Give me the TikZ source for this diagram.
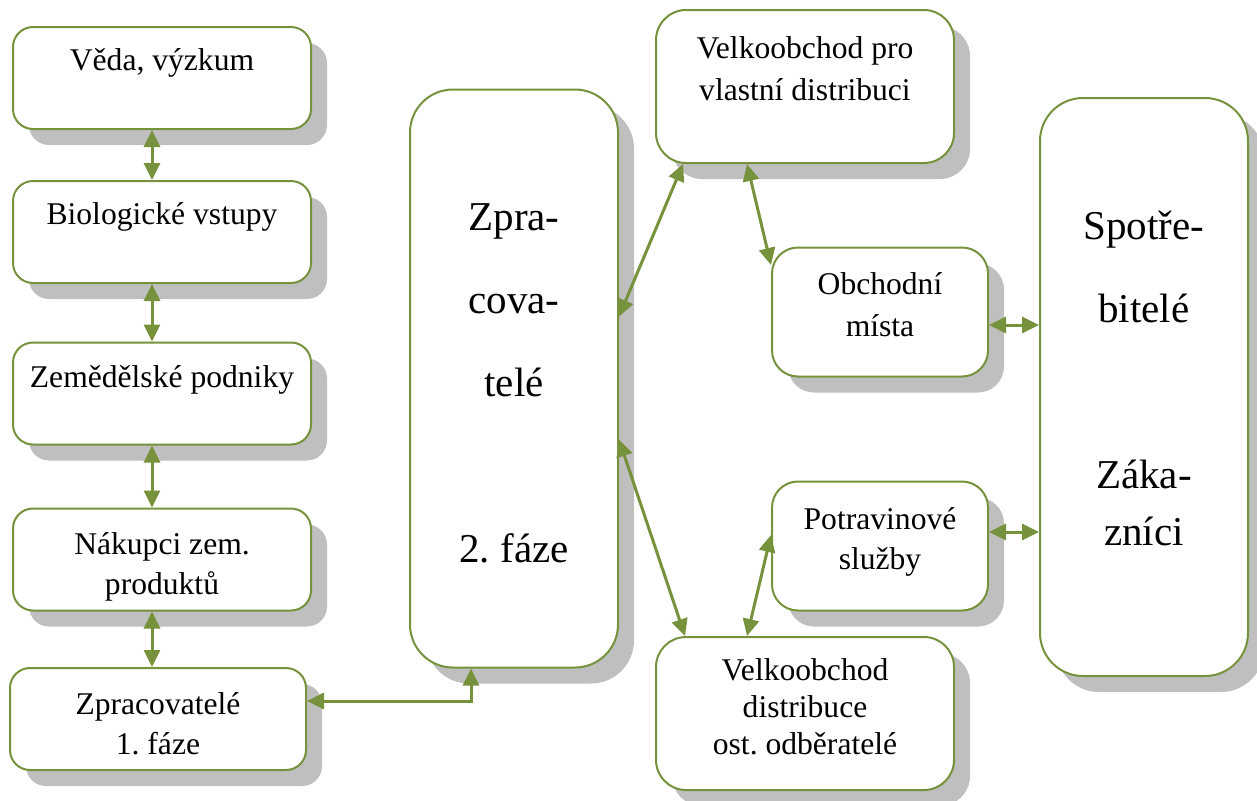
\documentclass[tikz,border=0pt]{standalone}
\usepackage{fontspec}
\setmainfont{Liberation Serif}
\usetikzlibrary{arrows.meta,positioning,shadows}
\definecolor{leaf}{HTML}{76923C}
\definecolor{shadowgrey}{HTML}{BFBFBF}
\frenchspacing

\begin{document}
\begin{tikzpicture}[x=0.5pt, y=-0.5pt,
    box/.style={draw=leaf, line width=1pt, fill=white, inner sep=0pt,
      drop shadow={shadow xshift=8pt, shadow yshift=-8pt, fill=shadowgrey, opacity=1}},
    stagebox/.style={box, rounded corners=10pt, minimum width=149pt, minimum height=51pt},
    tradebox/.style={box, rounded corners=15pt, minimum width=149pt, minimum height=76.5pt},
    shopbox/.style={box, rounded corners=13pt, minimum width=108pt, minimum height=64.5pt},
    tallbox/.style={box, rounded corners=21.5pt, minimum width=104pt, minimum height=289pt},
    txt/.style={font=\fontsize{15.8}{20}\selectfont, align=center, inner sep=0pt,
      execute at begin node=\strut},
    bigtxt/.style={txt, font=\fontsize{20.5}{41.5}\selectfont},
    link/.style={leaf, line width=1.5pt,
      {Triangle[length=8.5pt,width=8pt]}-{Triangle[length=8.5pt,width=8pt]}}]
  \useasboundingbox (0,0) rectangle (1257,800);

  % left column
  \node[stagebox] (veda) at (162,78) {};
  \node[stagebox] (bio) at (162,232) {};
  \node[stagebox] (zem) at (162,393.5) {};
  \node[stagebox] (nakup) at (162,559.5) {};
  \node[stagebox, minimum width=148pt] (zprac1) at (158,719) {};

  % processors, trade, consumers
  \node[tallbox] (zprac2) at (514,378.5) {};
  \node[tradebox] (velk1) at (805,86.5) {};
  \node[shopbox] (obch) at (880,312) {};
  \node[shopbox] (potr) at (880,546) {};
  \node[tradebox] (velk2) at (805,713.5) {};
  \node[tallbox] (spotr) at (1144,387) {};

  % texts
  \node[txt, below=8pt of veda.north] (veda-t) {Věda, výzkum};
  \node[txt, below=8pt of bio.north] (bio-t) {Biologické vstupy};
  \node[txt, below=9pt of zem.north] (zem-t) {Zemědělské podniky};
  \node[txt, below=12.5pt of nakup.north] (nakup-t) {Nákupci zem.\\produktů};
  \node[txt, below=12.5pt of zprac1.north] (zprac1-t) {Zpracovatelé\\1. fáze};
  \node[bigtxt, below=57.5pt of zprac2.north] (zprac2-t) {Zpra-\\cova-\\telé\\[41.5pt]2. fáze};
  \node[txt, below=13.5pt of velk1.north] (velk1-t) {Velkoobchod pro\\[1pt]vlastní distribuci};
  \node[txt, below=13pt of obch.north] (obch-t) {Obchodní\\[1pt]místa};
  \node[txt, below=13.5pt of potr.north] (potr-t) {Potravinové\\služby};
  \node[txt, below=11pt of velk2.north] (velk2-t) {Velkoobchod\\[-1.5pt]distribuce\\[-1.5pt]ost. odběratelé};
  \node[bigtxt, below=57pt of spotr.north] (spotr-t) {Spotře-\\bitelé\\[41.5pt]Záka-\\[-13pt]zníci};

  % connectors
  \draw[link] ([xshift=-5pt]veda.south) -- ([xshift=-5pt]bio.north);
  \draw[link] ([xshift=-5pt]bio.south) -- ([xshift=-5pt]zem.north);
  \draw[link] ([xshift=-5pt]zem.south) -- ([xshift=-5pt]nakup.north);
  \draw[link] ([xshift=-5pt]nakup.south) -- ([xshift=-5pt]nakup.south |- zprac1.north);
  \draw[link] ([yshift=9pt]zprac1.east) -| ([xshift=-21.5pt]zprac2.south);

  \draw[link] ([yshift=31pt]zprac2.east) -- ([xshift=-61pt]velk1.south);
  \draw[link] ([xshift=-29pt]velk1.south) -- ([yshift=23.5pt]obch.west);
  \draw[link] ([yshift=-30.5pt]zprac2.east) -- ([xshift=-60pt]velk2.north);
  \draw[link] ([xshift=-29pt]velk2.north) -- ([yshift=5.5pt]potr.west);

  \draw[link] ([yshift=-6.5pt]obch.east) -- ([yshift=-6.5pt]obch.east -| spotr.west);
  \draw[link] ([yshift=7pt]potr.east) -- ([yshift=7pt]potr.east -| spotr.west);
\end{tikzpicture}
\end{document}
